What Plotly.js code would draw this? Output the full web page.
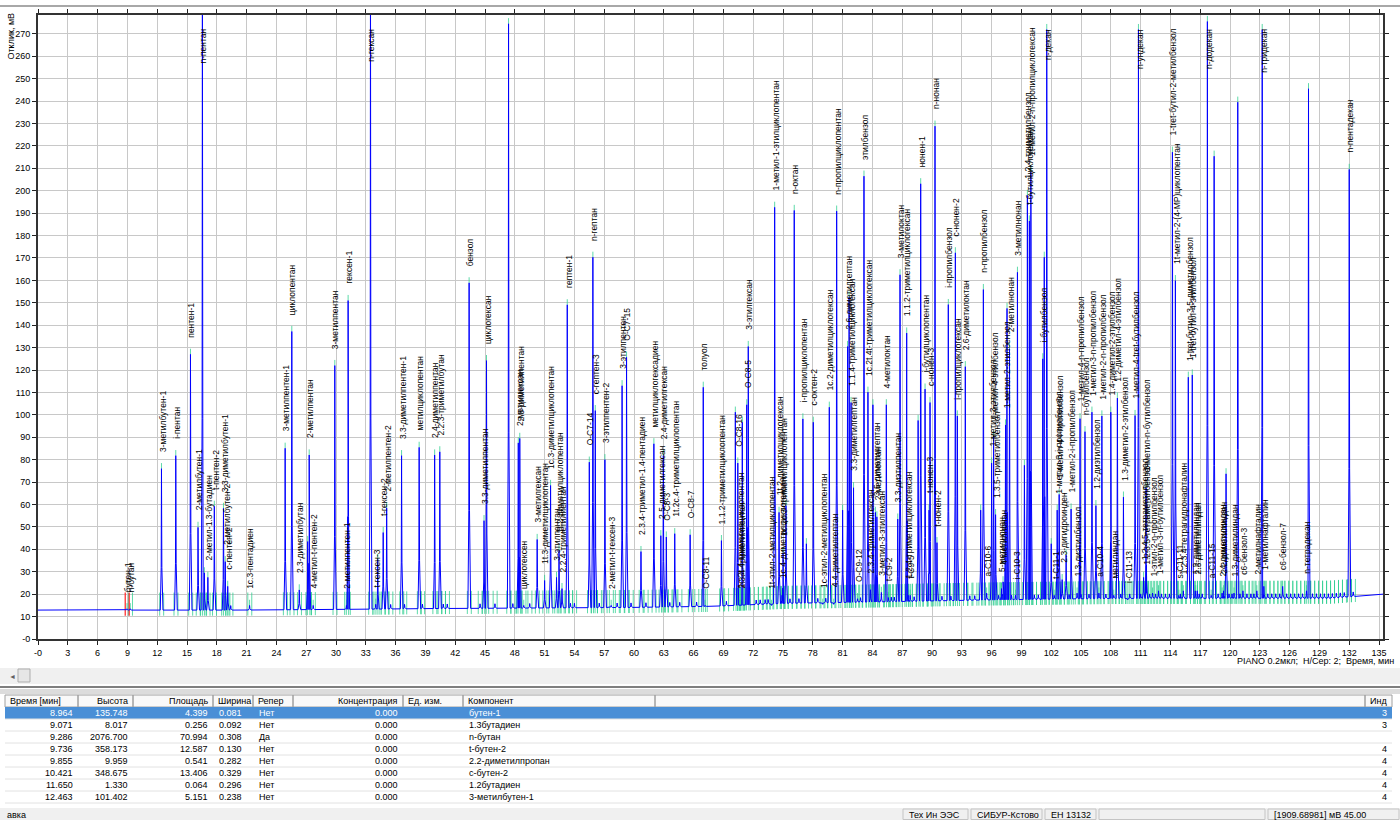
<!DOCTYPE html>
<html><head><meta charset="utf-8">
<script src="https://cdn.plot.ly/plotly-3.0.1.min.js"></script>
<style>html,body{margin:0;padding:0;background:#fff;overflow:hidden}#chart{width:1400px;height:820px}</style>
</head><body><div id="chart"></div>
<script>
// ---------- DATA ----------
const peakTimes = [8.96,9.29,12.43,13.87,15.35,16.11,16.55,16.75,17.1,17.75,18.67,18.85,19.1,21.3,24.88,25.55,26.3,27.15,27.3,27.7,29.88,31.05,31.22,33.47,34.0,34.2,34.75,35.1,36.6,38.37,39.93,40.45,43.4,44.9,45.15,47.37,48.35,48.5,48.9,50.25,51.0,51.6,52.2,52.45,52.75,53.28,55.5,55.86,56.1,57.07,57.7,58.8,59.25,60.7,62.0,62.7,62.95,63.25,64.1,65.65,66.97,67.15,68.8,70.2,70.45,70.65,70.8,70.9,71.35,71.5,73.85,74.16,74.6,74.9,75.0,75.3,76.13,77.0,77.35,78.05,79.0,79.66,80.1,80.4,81.0,81.5,81.65,81.85,82.1,82.5,83.15,83.55,83.8,84.05,84.3,84.45,84.9,85.4,85.6,86.55,86.78,87.45,87.6,87.8,88.6,88.86,89.3,89.7,89.8,90.3,90.5,91.64,92.35,92.55,93.35,94.9,95.17,95.5,96.0,96.2,96.4,97.0,97.15,97.4,97.55,97.8,98.4,98.6,99.3,99.6,99.8,99.95,101.15,101.3,101.55,102.0,102.3,102.6,102.8,103.1,103.5,104.0,104.6,104.9,105.4,106.1,106.5,106.8,107.1,108.0,108.3,108.66,109.27,109.7,110.44,110.78,111.3,111.55,111.6,112.2,112.8,114.2,114.5,114.85,115.3,115.8,116.2,116.5,116.7,117.72,118.1,118.4,119.2,119.35,119.6,120.4,120.78,121.3,122.7,123.24,123.4,125.3,127.7,127.9,132.0];
const peakHeights = [16,16,78.5,84.3,129.5,52.3,300,32,30,61.7,60.8,37,26,17.5,87.6,139.7,24.4,46,84.6,17.5,124.5,17.5,153.5,300,18,38,50,61,84.3,88,84.6,86,161.4,55.3,126.7,277,90,92,17.5,46.9,28.6,71,30,42,25,151.6,81.4,172.8,104.4,82.5,17.5,115.5,128.2,41.5,89.6,48.6,84.3,48,49.5,49,114.8,17.5,46.4,103.7,81,17.5,17.5,99.2,107,133,17.5,195.1,59,22,41,62,193.7,100.7,45,99.2,18,105.9,18,193.4,60,133,155,108,70,20.5,209,112.6,24.5,107,59,57,23.3,107,21,56,165,139,22,22,100,205.6,114,60,108,231.3,45.5,151.7,174.8,102,124,60,158.4,23,81,93,58,25,28,98,150,132,22,166.1,80,200.4,189,210.8,127.5,172.8,274.4,45,22,60,67,29,40,60.5,23,100.8,95,103.7,62,23,102,103.7,22,110,65.8,20,102.2,274.4,30,70,28,23,24,219.7,162.4,22,24,119.3,120.3,24,24,278,22,217.9,23,24,76.2,23,242,24,24,274.4,26,26,24,248,212];
const peakLabels = ["бутен-1","n-бутан","3-метилбутен-1","i-пентан","пентен-1","2-метилбутен-1","n-пентан","","2-метил-1.3-бутадиен","t-пентен-2","3.3-диметилбутен-1","2-метилбутен-2","c-пентен-2","1с.3-пентадиен","3-метилпентен-1","циклопентан","2.3-диметилбутан","","2-метилпентан","4-метил-t-пентен-2","3-метилпентан","2-метилпентен-1","гексен-1","n-гексан","t-гексен-3","","t-гексен-2","2-метилпентен-2","3.3-диметилпентен-1","метилциклопентан","2.4-диметилпентан","2.2.3-триметилбутан","бензол","3.3-диметилпентан","циклогексан","","2-метилгексан","2.3-диметилпентан","циклогексен","3-метилгексан","1t.3-диметилциклопентан","1c.3-диметилциклопентан","3-этилпентан","1t.2-диметилциклопентан","2.2.4-триметилпентан","гептен-1","O-C7-14","n-гептан","c-гептен-3","3-этилпентен-2","2-метил-t-гексен-3","3-этилпентен","O-C7-15","2.3.4-триметил-1.4-пентадиен","метилциклогексадиен","2.5-диметилгексан","2.4-диметилгексан","O-C8-3","1t.2c.4-триметилциклопентан","O-C8-7","толуол","O-C8-11","1.1.2-триметилциклопентан","","O-C8-16","1c.2t.4-триметилциклопентан","2.3.4-триметилпентан","","O-C8-5","3-этилгексан","1t-этил-2-метилциклопентан","1-метил-1-этилциклопентан","1t.2-диметилциклогексан","1c.4-диметилциклогексан","1c.2c.3-триметилциклопентан","","n-октан","i-пропилциклопентан","","c-октен-2","1c-этил-2-метилциклопентан","1c.2-диметилциклогексан","4.4-диметилгептан","n-пропилциклопентан","","2.6-диметилгептан","","1.1.4-триметилциклогексан","3.3-диметилгептан","O-C9-12","этилбензол","1c.2t.4t-триметилциклогексан","2.3.4-триметилгексан","","3.5-диметилгептан","2-метилоктан","3-метил-3-этилгексан","4-метилоктан","t-C9-2","3.3-диэтилпентан","3-метилоктан","1.1.2-триметилциклогексан","1.2.4-триметилциклогексан","t-C9-5","","нонен-1","i-бутилциклопентан","t-нонен-3","c-нонен-3","n-нонан","t-нонен-2","i-пропилбензол","c-нонен-2","i-пропилциклогексан","2.6-диметилоктан","","n-пропилбензол","a-C10-6","1-метил-3-этилбензол","1-метил-4-этилбензол","1.3.5-триметилбензол","5-метилнонан","4-метилнонан","1-метил-2-этилбензол","","2-метилнонан","i-C10-3","3-метилнонан","","1.2.4-триметилбензол","t-бутилциклогексан","1t-метил-2-n-пропилциклогексан","i-бутилбензол","","n-декан","","t-C11-1","1-метил-3-i-пропилбензол","1-метил-4-i-пропилбензол","2.3-дигидроинден","","1-метил-2-i-пропилбензол","1.3-диэтилбензол","1-метил-4-n-пропилбензол","n-бутилбензол","1-метил-3-n-пропилбензол","1.2-диэтилбензол","a-C10-4","1-метил-2-n-пропилбензол","1.4-диметил-2-этилбензол","метилиндан","1.2-диметил-4-этилбензол","1.3-диметил-2-этилбензол","i-C11-13","1-метил-4-tret-бутилбензол","n-ундекан","1.2.4.5-тетраметилбензол","1-метил-n-бутилбензол","1.2.3.5-тетраметилбензол","1-этил-2-n-пропилбензол","1-метил-3-n-бутилбензол","1-tret-бутил-2-метилбензол","1t-метил-2-(4-MP)циклопентан","s-C11-11","1.2.3.4-тетрагидронафталин","1-tret-бутил-3.5-диметилбензол","1-tret-бутил-4-этилбензол","1.2-диметилиндан","2.3-диметилиндан","n-додекан","a-C11-15","","2.4-диметилиндан","2.2-диметилиндан","","1.3-диметилиндан","","c6-бензол-3","2-метилнафталин","n-тридекан","1-метилнафталин","c6-бензол-7","n-тетрадекан","","n-пентадекан"];
const minorTimes = [19.4,35.5,36.9,38.7,40.8,41.2,44.5,46.0,47.8,49.5,53.6,54.0,56.5,58.3,59.7,61.2,63.6,64.6,66.3,69.3,72.3,72.7,73.2,73.5,75.7,76.6,78.5,79.3,82.8,85.9,86.2,88.2,91.0,91.9,93.8,94.3,96.7,98.0,100.3,100.7,103.8,105.0,105.8,107.5,109.0,109.9,111.0,111.9,112.5,113.1,113.5,113.9,115.0,116.9,117.2,118.8,119.9,120.2,121.0,121.7,122.1,122.4,123.8,124.2,124.6,125.0,125.7,126.1,126.5,126.9,127.3,128.3,128.7,129.1,129.5,129.9,130.3,130.7,131.1,131.5,132.4];
const baseTimes  = [0, 20, 33, 40, 45, 60, 68, 75, 85, 95, 108, 130, 133, 135.4];
const baseLevels = [12.9, 12.9, 13.3, 13.6, 13.7, 14.1, 14.6, 15.9, 16.6, 17.4, 18.1, 18.2, 19.2, 20.0];
const selectedPeak = "бутен-1";

const xTickVals = [0,3,6,9,12,15,18,21,24,27,30,33,36,39,42,45,48,51,54,57,60,63,66,69,72,75,78,81,84,87,90,93,96,99,102,105,108,111,114,117,120,123,126,129,132,135];
const yTickVals = [0,10,20,30,40,50,60,70,80,90,100,110,120,130,140,150,160,170,180,190,200,210,220,230,240,250,260,270];

const tblHeader = ["Время [мин]","Высота","Площадь","Ширина","Репер","Концентрация","Ед. изм.","Компонент","","Инд"];
const tblTime = ["8.964","9.071","9.286","9.736","9.855","10.421","11.650","12.463"];
const tblHeight = ["135.748","8.017","2076.700","358.173","9.959","348.675","1.330","101.402"];
const tblArea = ["4.399","0.256","70.994","12.587","0.541","13.406","0.064","5.151"];
const tblWidth = ["0.081","0.092","0.308","0.130","0.282","0.329","0.296","0.238"];
const tblRef = ["Нет","Нет","Да","Нет","Нет","Нет","Нет","Нет"];
const tblConc = ["0.000","0.000","0.000","0.000","0.000","0.000","0.000","0.000"];
const tblUnit = ["","","","","","","",""];
const tblComp = ["бутен-1","1.3бутадиен","n-бутан","t-бутен-2","2.2-диметилпропан","c-бутен-2","1.2бутадиен","3-метилбутен-1"];
const tblBlank = ["","","","","","","",""];
const tblIdx = ["3","3","","4","4","4","4","4"];
const statusTexts = ["Тех Ин ЭЭС","СИБУР-Кстово","ЕН 13132","","[1909.68981] мВ 45.00"];

// ---------- BUILD ----------
const W = 1400, H = 820;
const px = v => v / W, py = v => 1 - v / H;
const FONT = 'Liberation Sans, Arial, sans-serif';
const YMAX = 278.4;

function baseAt(t){
  for (let i = 0; i < baseTimes.length - 1; i++){
    if (t <= baseTimes[i+1]){
      const f = (t - baseTimes[i]) / (baseTimes[i+1] - baseTimes[i]);
      return baseLevels[i] + f * (baseLevels[i+1] - baseLevels[i]);
    }
  }
  return baseLevels[baseLevels.length-1];
}

// blue signal points
let pts = [];
baseTimes.forEach((t,i)=>pts.push([t, baseLevels[i]]));
function addPeak(t, apex){
  const b = baseAt(t);
  const sh = b + 0.3*(apex - b);
  pts.push([t-0.12, b],[t-0.03, sh],[t, apex],[t+0.04, sh],[t+0.15, b]);
}
peakTimes.forEach((t,i)=>addPeak(t, peakHeights[i] - 2.5));
minorTimes.forEach(t=>addPeak(t, baseAt(t) + 2));
pts.sort((a,b)=>a[0]-b[0]);
const sigX = pts.map(p=>p[0]), sigY = pts.map(p=>p[1]);

// integration markers
const gX = [], gY = [], rX = [], rY = [];
function markers(t, isSel, apexTop){
  const b = baseAt(t);
  const X = isSel ? rX : gX, Y = isSel ? rY : gY;
  [t-0.18, t+0.22].forEach(m=>{ X.push(m, m, null); Y.push(b-2.5, b+7.8, null); });
  if (apexTop !== null && apexTop < YMAX){ gX.push(t, t, null); gY.push(apexTop-2.5, apexTop, null); }
}
peakTimes.forEach((t,i)=>markers(t, peakLabels[i] === selectedPeak, peakHeights[i]));
minorTimes.forEach(t=>markers(t, false, null));

const traces = [
  {type:'scatter', mode:'lines', x:gX, y:gY, line:{color:'rgba(40,205,140,0.75)', width:1}, hoverinfo:'skip'},
  {type:'scatter', mode:'lines', x:rX, y:rY, line:{color:'#ff2020', width:1.2}, hoverinfo:'skip'},
  {type:'scatter', mode:'lines', x:sigX, y:sigY, line:{color:'#0000ff', width:1}, hoverinfo:'skip'}
];

// annotations & shapes
const anns = [];
const shapes = [];
peakTimes.forEach((t,i)=>{
  const lab = peakLabels[i]; if (!lab) return;
  const top = peakHeights[i] >= 250;
  anns.push({x:t, y: top ? 273.2 : peakHeights[i], xref:'x', yref:'y', text:lab, textangle:-90, showarrow:false,
    xanchor:'center', yanchor: top ? 'top' : 'bottom', yshift: top ? 0 : 9, xshift:1,
    font:{family:FONT, size:8.5, color:'#000'}});
});
function pa(x, y, text, anchor, opts){
  anns.push(Object.assign({x:px(x), y:py(y), xref:'paper', yref:'paper', text:text, showarrow:false,
    xanchor:anchor, yanchor:'middle', font:{family:FONT, size:9, color:'#000'}}, opts||{}));
}
function rect(x0,x1,y0,y1,fill,lineCol,lw,layer){
  shapes.push({type:'rect', xref:'paper', yref:'paper', x0:px(x0), x1:px(x1), y0:py(y1), y1:py(y0),
    line:{color:lineCol||'rgba(0,0,0,0)', width:lineCol?(lw||1):0}, fillcolor:fill||'rgba(0,0,0,0)', layer:layer||'above'});
}
function hline(x0,x1,y,col,w){
  shapes.push({type:'line', xref:'paper', yref:'paper', x0:px(x0), x1:px(x1), y0:py(y), y1:py(y), line:{color:col, width:w}});
}

pa(10, 11, 'Отклик, мВ', 'center', {textangle:-90, yanchor:'top'});
pa(1396, 661, 'PIANO 0.2мкл;  Н/Сер: 2;  Время, мин', 'right');

// window frame, scrollbar
hline(0, 1400, 6, '#a8a8a8', 2);
rect(0, 1400, 668, 684, '#f0f0f0');
rect(18, 30, 669, 682, '#e6e6e6', '#adadad', 1);
pa(12, 676, '◄', 'center', {font:{family:FONT, size:7, color:'#606060'}});
hline(0, 1400, 687, '#555555', 1.5);
rect(0, 1400, 689, 694, '#dcdcdc');

// table drawn with shapes + annotations
const colEdges = [5, 78, 133, 213, 253, 293, 403, 463, 655, 1365, 1392];
const colAlign = ['right','right','right','left','left','right','left','left','left','right'];
const headAlign = ['left','right','right','left','left','right','left','left','left','right'];
const columns = [tblTime, tblHeight, tblArea, tblWidth, tblRef, tblConc, tblUnit, tblComp, tblBlank, tblIdx];
const headTop = 695, rowH = 12;
rect(5, 1392, headTop, headTop + rowH, '#f9f9f9');
for (let c = 0; c < tblHeader.length; c++){
  const x0 = colEdges[c], x1 = colEdges[c+1];
  rect(x0, x1, headTop, headTop + rowH, null, '#a0a0a0', 1);
  const hx = headAlign[c] === 'right' ? x1 - 3 : x0 + 3;
  if (tblHeader[c]) pa(hx, headTop + rowH/2, tblHeader[c], headAlign[c]);
}
for (let r = 0; r < tblTime.length; r++){
  const y0 = headTop + rowH * (r + 1), y1 = y0 + rowH;
  const sel = tblComp[r] === selectedPeak;
  if (sel) rect(5, 1392, y0, y1, '#4a8fd6');
  hline(5, 1392, y1, '#e2e2e2', 1);
  for (let c = 0; c < columns.length; c++){
    const v = columns[c][r]; if (!v) continue;
    const x0 = colEdges[c], x1 = colEdges[c+1];
    const tx = colAlign[c] === 'right' ? x1 - 3 : x0 + 4;
    pa(tx, y0 + rowH/2, v, colAlign[c], {font:{family:FONT, size:9, color: sel ? '#ffffff' : '#000000'}});
  }
}

// status bar
rect(0, 1400, 808, 820, '#f0f0f0');
pa(5, 814.5, 'авка', 'left');
const statusBoxes = [[903,968],[971,1042],[1045,1096],[1099,1265],[1268,1399]];
statusBoxes.forEach((bx,i)=>{
  rect(bx[0], bx[1], 809, 819.5, null, '#c4c4c4', 1);
  if (statusTexts[i]) pa(bx[0]+4, 814.5, statusTexts[i], 'left');
});

const layout = {
  width:W, height:H, margin:{l:0,r:0,t:0,b:0,pad:0}, paper_bgcolor:'#ffffff', plot_bgcolor:'#ffffff', showlegend:false,
  font:{family:FONT, size:9, color:'#000'},
  xaxis:{domain:[px(38), px(1383)], range:[0,135.4], tickmode:'array', tickvals:xTickVals,
    ticktext:xTickVals.map(v=> v===0 ? '-0' : String(v)), ticks:'outside', ticklen:4, tickwidth:1, tickcolor:'#222',
    showline:true, linecolor:'#333', linewidth:2, mirror:'ticks', showgrid:true, gridcolor:'#c8c8c8', gridwidth:1,
    zeroline:false, tickfont:{family:FONT, size:9, color:'#000'}, fixedrange:true},
  yaxis:{domain:[py(639), py(15)], range:[0,YMAX], tickmode:'array', tickvals:yTickVals,
    ticktext:yTickVals.map(v=> v===0 ? '-0' : String(v)), ticks:'outside', ticklen:4, tickwidth:1, tickcolor:'#222',
    showline:true, linecolor:'#333', linewidth:2, mirror:'ticks', showgrid:true, gridcolor:'#c8c8c8', gridwidth:1,
    zeroline:false, tickfont:{family:FONT, size:9, color:'#000'}, fixedrange:true},
  annotations:anns, shapes:shapes
};
Plotly.newPlot('chart', traces, layout, {displayModeBar:false, staticPlot:true});
</script>
</body></html>
